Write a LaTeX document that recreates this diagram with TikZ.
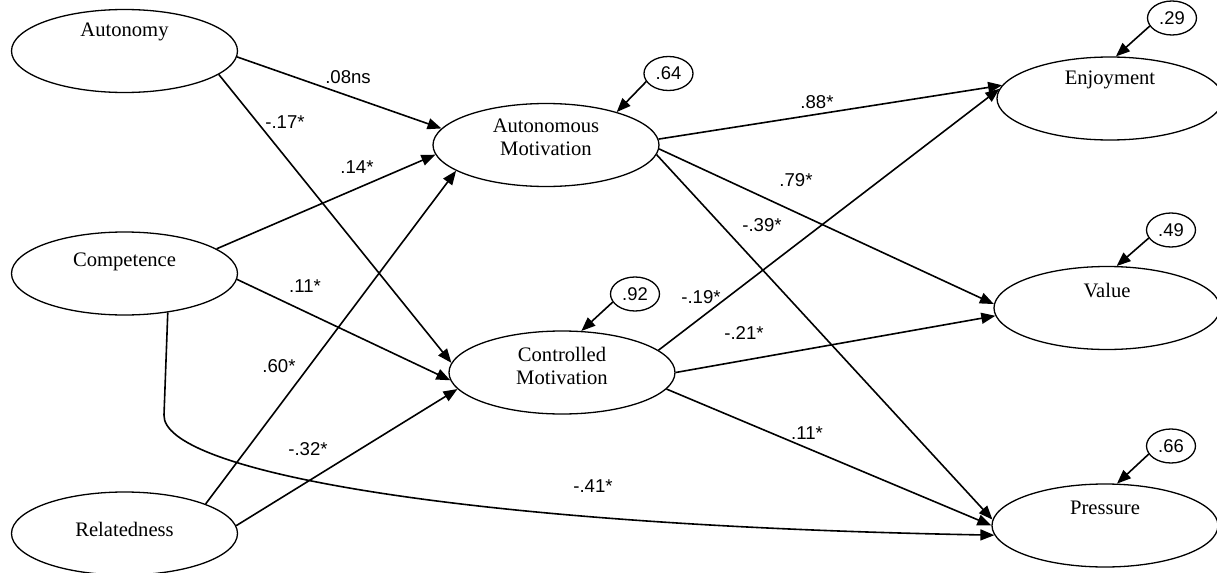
\documentclass[tikz,border=0pt]{standalone}
\usepackage{fontspec}
\setmainfont{Liberation Serif}
\setsansfont{Liberation Sans}
\usetikzlibrary{shapes.geometric,arrows.meta}

\begin{document}
\begin{tikzpicture}[x=.5pt, y=-.5pt,
    latent/.style={draw, ellipse, minimum width=113pt, minimum height=41.5pt, inner sep=0pt, line width=.65pt},
    resid/.style={draw, ellipse, minimum width=24.5pt, minimum height=17pt, inner sep=0pt, line width=.65pt, font=\sffamily\fontsize{9.2}{10}\selectfont},
    nm/.style={font=\fontsize{10.3}{11.5}\selectfont, align=center, inner sep=0pt},
    coef/.style={font=\sffamily\fontsize{9.3}{10}\selectfont, inner sep=1pt},
    arr/.style={-{Triangle[length=7pt,width=5.5pt]}, line width=.8pt}]

    \useasboundingbox (0,0) rectangle (1217,573);

    % Needs
    \node[latent, label={[nm, yshift=9.5pt]center:Autonomy}] (aut) at (124.5,51) {};
    \node[latent, label={[nm, yshift=5.8pt]center:Competence}] (comp) at (124.5,273.5) {};
    \node[latent, label={[nm, yshift=1.8pt]center:Relatedness}] (rel) at (124.5,533.5) {};

    % Motivation
    \node[latent, label={[nm, yshift=3.8pt]center:Autonomous\\Motivation}] (am) at (546,145) {};
    \node[latent, label={[nm, yshift=3.5pt]center:Controlled\\Motivation}] (cm) at (562,372.5) {};

    % Outcomes
    \node[latent, label={[nm, yshift=9.3pt]center:Enjoyment}] (enj) at (1110,98.5) {};
    \node[latent, label={[nm, yshift=8.5pt]center:Value}] (val) at (1107,308) {};
    \node[latent, label={[nm, yshift=8.8pt]center:Pressure}] (pres) at (1105,525.5) {};

    % Residuals
    \node[resid] (r64) at (668.5,73.5) {.64};
    \node[resid] (r92) at (635,294) {.92};
    \node[resid] (r29) at (1172,18) {.29};
    \node[resid] (r49) at (1171,230) {.49};
    \node[resid] (r66) at (1171,446) {.66};

    \foreach \r/\t/\a in {r64/am/25, r92/cm/65, r29/enj/82, r49/val/77, r66/pres/74}
      \draw[arr] (\r.200) -- (\t.\a);

    % Paths
    \foreach \s/\t in {aut.357/am.171, aut.346/cm.175, comp.15/am.185, comp.357/cm.184,
                       rel.20/am.196, rel.4/cm.189, am.3/enj.173, am.358/val.178,
                       am.355/pres.177, cm.13/enj.175, cm.0/val.184, cm.351/pres.180}
      \draw[arr] (\s) -- (\t);

    \draw[arr] (comp.318) -- (164,415) .. controls (162,470) and (450,525) .. (pres.185);

    % Coefficients
    \foreach \i/\x/\y/\v in {1/348/77/.08ns, 2/285/122/-.17*, 3/357/167/.14*, 4/305/286/.11*,
                             5/279/366/.60*, 6/308/449/-.32*, 7/817/102/.88*, 8/796/180/.79*,
                             9/762/225/-.39*, 10/701/297/-.19*, 11/744/333/-.21*, 12/807/433/.11*,
                             13/593/486/-.41*}
      \node[coef] (c\i) at (\x,\y) {\v};
  \end{tikzpicture}
\end{document}
